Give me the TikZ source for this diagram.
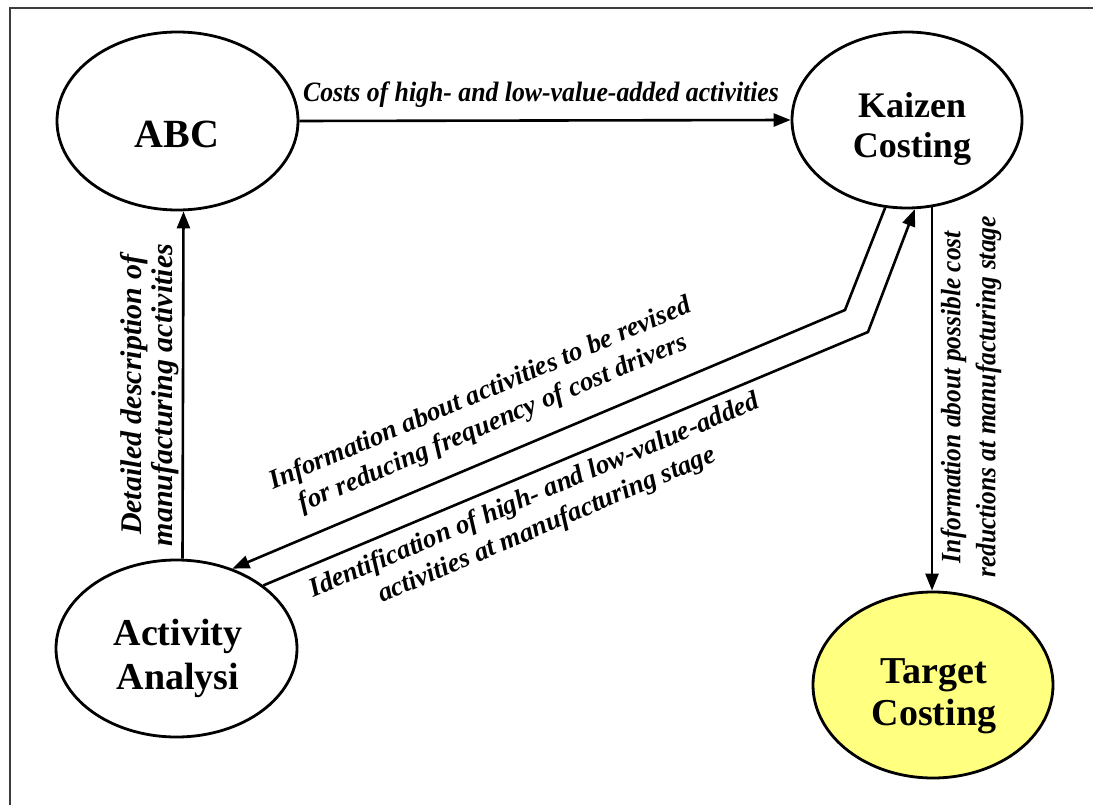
\documentclass[tikz,border=0pt]{standalone}
\usepackage{fontspec}
\setmainfont{Liberation Serif}
\usepackage{graphicx}
\usetikzlibrary{arrows.meta,shapes.geometric}
\definecolor{tyellow}{RGB}{255,255,128}
\definecolor{framegray}{RGB}{60,60,60}
\begin{document}
\begin{tikzpicture}[x=1pt,y=-1pt,
  oval/.style={ellipse, draw, line width=2.8pt, inner sep=0pt},
  arr/.style={line width=2.6pt, -{Triangle[length=17pt,width=13pt]}},
  ntext/.style={align=center, inner sep=0pt},
  lab/.style={align=center, inner sep=0pt}
]
\useasboundingbox (0,0) rectangle (1093,805);
\draw[framegray, line width=1.6pt] (10,805) -- (10,8) -- (1093,8);

% ellipses
\node[oval, minimum width=241pt, minimum height=178pt] (abc) at (177.5,121) {};
\node[oval, minimum width=230pt, minimum height=176pt] (kz) at (907,120) {};
\node[oval, minimum width=241pt, minimum height=177pt] (act) at (176.5,648.5) {};
\node[oval, fill=tyellow, minimum width=240pt, minimum height=186pt] (tc) at (933,685) {};

% node texts
\node[ntext, font=\fontsize{40}{44}\selectfont\bfseries] (abct) at (177,134) {ABC};
\node[ntext, font=\fontsize{36}{40}\selectfont\bfseries] (kzt) at (912,129) {Kaizen\\Costing};
\node[ntext, font=\fontsize{38}{42}\selectfont\bfseries] (tct) at (934,696) {Target\\Costing};
\node[ntext, font=\fontsize{38}{44}\selectfont\bfseries] (actt) at (178,658) {Activity\\Analysi};

% bend points
\coordinate (b1) at (845,310);
\coordinate (b2) at (868,332);

% connectors
\draw[arr] (abc.east) -- (kz.west);
\draw[arr] ([xshift=6pt]act.north) -- ([xshift=6pt]abc.south);
\draw[arr] (kz.-74) -- (kz.-74 |- tc.north);
\draw[arr] (kz.-104) -- (b1) -- (act.55);
\draw[arr] (act.36) -- (b2) -- (kz.-85);

% labels
\node[lab, anchor=base, font=\fontsize{28}{32}\selectfont\bfseries\itshape] (l1) at (541,102)
  {\scalebox{0.92}[1]{Costs of high- and low-value-added activities}};
\node[lab, rotate=90, font=\fontsize{30}{31}\selectfont\bfseries\itshape] (l2) at (150,395)
  {Detailed description of\\manufacturing activities};
\node[lab, rotate=90, font=\fontsize{28}{35}\selectfont\bfseries\itshape] (l3) at (971,397)
  {\scalebox{0.91}[1]{Information about possible cost}\\\scalebox{0.91}[1]{reductions at manufacturing stage}};
\node[lab, rotate=23, font=\fontsize{27}{32}\selectfont\bfseries\itshape] (l4) at (487,409)
  {Information about activities to be revised\\for reducing frequency of cost drivers};
\node[lab, rotate=23, font=\fontsize{27}{32}\selectfont\bfseries\itshape] (l5) at (541,511)
  {Identification of high- and low-value-added\\activities at manufacturing stage};
\end{tikzpicture}
\end{document}
